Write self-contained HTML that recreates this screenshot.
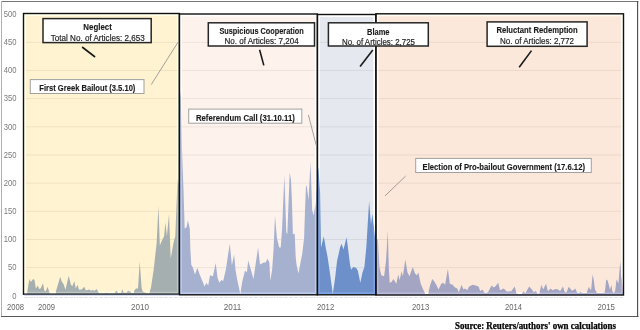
<!DOCTYPE html>
<html><head><meta charset="utf-8"><style>
html,body{margin:0;padding:0;background:#fff;width:640px;height:330px;overflow:hidden}
svg{display:block}
text{font-family:"Liberation Sans",sans-serif}
</style></head><body>
<svg width="640" height="330" viewBox="0 0 640 330">
<defs>
<clipPath id="cn"><rect x="23.5" y="13.5" width="155.9" height="280.7"/></clipPath>
<clipPath id="cs"><rect x="179.4" y="14.0" width="138.0" height="280.8"/></clipPath>
<clipPath id="cb"><rect x="317.4" y="14.5" width="58.5" height="280.3"/></clipPath>
<clipPath id="cr"><rect x="375.9" y="13.8" width="247.6" height="281.2"/></clipPath>
<path id="area" d="M24,295 L24.0,294.0 L27.0,293.5 L29.4,279.0 L30.8,281.9 L33.1,278.9 L34.5,280.0 L35.9,288.4 L37.8,285.6 L39.2,288.9 L40.6,288.4 L43.0,283.3 L44.4,290.8 L45.8,291.2 L47.6,286.7 L49.0,291.2 L50.0,293.5 L55.6,293.5 L56.0,291.0 L60.3,276.7 L61.7,281.4 L63.6,284.2 L65.5,289.8 L68.7,275.8 L71.0,285.0 L72.5,286.0 L74.2,281.0 L75.8,288.4 L77.6,284.7 L79.0,289.8 L81.6,289.6 L84.4,286.7 L85.8,290.5 L89.0,289.6 L91.4,290.8 L92.8,289.8 L94.2,291.0 L96.6,288.9 L98.4,292.2 L99.8,293.3 L105.0,293.3 L106.4,292.6 L108.0,293.3 L114.4,293.3 L116.2,290.5 L118.1,292.8 L121.0,292.8 L122.3,289.2 L123.7,292.6 L126.5,292.6 L128.0,290.8 L130.3,291.4 L131.7,293.1 L133.5,293.0 L134.5,290.3 L136.0,288.5 L138.0,288.5 L139.7,261.5 L141.6,287.5 L142.5,291.3 L144.5,292.3 L149.1,293.5 L151.0,287.5 L153.8,268.8 L155.6,252.0 L156.6,243.8 L158.5,205.8 L159.8,245.6 L161.3,241.9 L164.1,236.3 L165.4,222.5 L166.9,236.3 L169.0,214.0 L170.7,258.6 L173.5,242.8 L175.3,236.3 L176.3,210.0 L177.6,177.0 L178.6,185.0 L179.6,120.0 L180.3,87.0 L181.2,100.0 L182.0,150.0 L183.5,190.0 L184.7,228.8 L186.6,226.9 L187.9,220.3 L189.8,228.8 L190.4,250.0 L191.3,265.0 L192.2,266.3 L193.0,268.0 L195.0,274.4 L197.3,267.8 L199.7,274.4 L204.6,286.6 L206.3,282.8 L208.2,285.6 L210.0,275.3 L212.9,276.3 L215.7,263.1 L217.6,278.1 L219.4,282.8 L221.3,280.0 L223.2,281.0 L226.0,268.8 L228.0,255.0 L229.8,243.8 L231.9,265.5 L234.1,254.5 L235.6,270.6 L237.3,280.0 L240.3,294.0 L242.2,281.9 L245.0,270.6 L246.9,272.5 L248.2,260.5 L250.6,268.8 L253.5,279.1 L255.3,266.3 L258.1,247.5 L260.0,264.4 L263.8,262.5 L265.6,262.5 L267.5,258.8 L269.4,262.5 L270.3,281.0 L272.2,268.8 L273.5,250.0 L275.0,215.6 L276.9,238.1 L279.2,247.5 L280.7,247.5 L282.0,230.0 L284.4,175.3 L286.3,232.5 L287.3,234.0 L289.7,172.5 L291.0,180.0 L291.9,200.0 L292.9,234.4 L294.7,233.5 L295.7,256.9 L296.6,265.0 L298.5,273.5 L300.4,263.1 L302.2,254.0 L304.1,238.1 L305.0,210.0 L306.0,184.7 L307.0,187.5 L308.5,200.0 L310.5,162.0 L312.2,210.0 L313.5,215.6 L315.4,205.0 L316.5,190.0 L317.5,175.0 L318.4,167.0 L320.1,192.0 L321.0,247.5 L323.8,236.3 L325.7,247.5 L327.6,257.0 L330.4,276.3 L332.8,294.0 L335.1,278.1 L337.0,261.3 L338.8,253.2 L340.0,247.5 L341.6,243.8 L343.5,249.4 L346.6,237.2 L348.4,251.3 L349.4,259.4 L350.3,266.3 L351.3,269.7 L353.1,266.9 L356.0,267.8 L357.8,270.6 L360.3,282.8 L362.5,272.5 L364.4,266.9 L366.3,247.5 L369.1,201.0 L371.0,224.0 L372.4,213.5 L374.7,234.4 L375.8,245.0 L377.0,240.0 L378.0,238.0 L379.4,266.9 L381.3,275.3 L384.1,276.3 L386.0,261.3 L387.8,230.6 L388.8,266.9 L389.7,282.8 L391.5,282.0 L393.5,279.1 L396.3,283.8 L398.2,274.4 L399.7,280.0 L401.5,271.6 L402.9,276.3 L405.3,259.5 L407.5,272.5 L409.4,276.3 L412.8,266.9 L415.0,273.5 L416.9,275.3 L418.4,272.5 L420.7,283.8 L423.5,290.3 L425.4,294.0 L428.2,294.0 L430.0,285.6 L432.3,279.1 L434.7,281.9 L436.6,285.6 L438.5,289.4 L441.3,283.8 L443.2,282.8 L445.1,284.7 L447.9,268.8 L449.8,283.8 L452.6,284.7 L455.0,287.5 L457.3,288.5 L458.8,292.2 L461.6,284.7 L463.4,289.4 L465.3,288.5 L467.2,290.3 L469.1,286.6 L472.8,284.7 L475.6,285.6 L478.5,286.6 L480.3,291.3 L482.2,289.4 L485.0,293.2 L488.0,292.2 L491.6,285.6 L493.5,287.5 L495.3,286.6 L498.2,282.8 L500.0,290.3 L503.8,288.5 L506.6,291.6 L511.3,291.3 L514.7,286.6 L516.5,293.5 L519.7,294.0 L521.6,294.0 L523.5,291.3 L525.4,293.2 L529.1,286.6 L531.9,289.4 L533.8,292.2 L535.7,290.9 L537.5,293.5 L539.4,293.5 L541.3,284.7 L543.2,289.4 L546.0,283.8 L547.9,291.3 L550.7,288.5 L552.6,290.3 L555.4,289.0 L558.2,289.4 L560.1,291.3 L562.9,286.6 L564.8,292.2 L566.6,292.2 L568.7,286.7 L570.2,288.4 L572.0,290.8 L573.9,289.8 L575.3,288.6 L576.7,291.7 L577.7,293.1 L579.1,293.1 L580.5,291.7 L581.9,293.1 L586.6,293.1 L588.9,286.7 L590.3,289.8 L591.2,289.4 L592.6,274.4 L593.6,279.1 L595.0,289.4 L596.4,292.2 L597.8,293.1 L604.4,293.1 L605.3,288.4 L606.2,279.5 L607.6,280.5 L609.0,285.6 L610.0,289.8 L611.4,284.7 L612.3,291.2 L613.7,293.1 L615.1,291.2 L616.5,279.5 L617.5,281.4 L618.4,283.7 L620.3,261.0 L621.2,274.4 L622.5,285.0 L623.0,294.0 L623,295 Z"/>
</defs>
<path d="M1,1.5H638.5" stroke="#777" stroke-width="1"/><path d="M1.5,1V317" stroke="#b0b0b0" stroke-width="1"/><path d="M1,316.5H638.5" stroke="#585858" stroke-width="1.1"/><path d="M637.6,1V317" stroke="#4a4a4a" stroke-width="1.1"/>
<rect x="23.5" y="13.5" width="155.9" height="280.7" fill="#FFF3D1"/>
<rect x="179.4" y="14.0" width="138.0" height="280.8" fill="#FDF3EC"/>
<rect x="317.4" y="14.5" width="58.5" height="280.3" fill="#E5E9EF"/>
<rect x="375.9" y="13.8" width="247.6" height="281.2" fill="#FBE8DA"/>
<path d="M24,267.68H623M24,239.50H623M24,211.32H623M24,183.15H623M24,154.97H623M24,126.80H623M24,98.62H623M24,70.45H623M24,42.27H623M24,14.10H623" stroke="#000" stroke-opacity="0.065" stroke-width="1" fill="none"/>
<use href="#area" fill="#A6AFB0" clip-path="url(#cn)"/>
<use href="#area" fill="#A6B1D0" clip-path="url(#cs)"/>
<use href="#area" fill="#6D90CA" clip-path="url(#cb)"/>
<use href="#area" fill="#A3A5C3" clip-path="url(#cr)"/>
<path d="M23.5,13.5H179.4M23.5,294.2H179.4M23.5,13.5V294.2M179.4,14.0H317.4M179.4,294.8H317.4M179.4,13.5V294.8M317.4,14.5H375.9M317.4,294.8H375.9M317.4,14.0V294.8M375.9,13.8H623.5M375.9,295.0H623.5M375.9,13.8V295.0M623.5,13.8V295.0" fill="none" stroke="rgb(30,30,30)" style="mix-blend-mode:color-dodge" stroke-width="5.0" stroke-linecap="square"/>
<rect x="23.5" y="13.5" width="155.9" height="280.7" fill="none" stroke="#111" stroke-width="1.4"/>
<rect x="179.4" y="14.0" width="138.0" height="280.8" fill="none" stroke="#111" stroke-width="1.4"/>
<rect x="317.4" y="14.5" width="58.5" height="280.3" fill="none" stroke="#111" stroke-width="1.4"/>
<rect x="375.9" y="13.8" width="247.6" height="281.2" fill="none" stroke="#111" stroke-width="1.4"/>
<path d="M24,295.2H179" stroke="#b8c4e6" stroke-width="0.8"/><path d="M24,297.5H623" stroke="#e2e4ea" stroke-width="1.1" stroke-dasharray="4,1"/>
<text x="12.25" y="298.55" font-size="8.5" fill="#7a7a7a" textLength="4.25" lengthAdjust="spacingAndGlyphs">0</text>
<text x="8.00" y="270.38" font-size="8.5" fill="#7a7a7a" textLength="8.50" lengthAdjust="spacingAndGlyphs">50</text>
<text x="3.75" y="242.20" font-size="8.5" fill="#7a7a7a" textLength="12.75" lengthAdjust="spacingAndGlyphs">100</text>
<text x="3.75" y="214.02" font-size="8.5" fill="#7a7a7a" textLength="12.75" lengthAdjust="spacingAndGlyphs">150</text>
<text x="3.75" y="185.85" font-size="8.5" fill="#7a7a7a" textLength="12.75" lengthAdjust="spacingAndGlyphs">200</text>
<text x="3.75" y="157.67" font-size="8.5" fill="#7a7a7a" textLength="12.75" lengthAdjust="spacingAndGlyphs">250</text>
<text x="3.75" y="129.50" font-size="8.5" fill="#7a7a7a" textLength="12.75" lengthAdjust="spacingAndGlyphs">300</text>
<text x="3.75" y="101.33" font-size="8.5" fill="#7a7a7a" textLength="12.75" lengthAdjust="spacingAndGlyphs">350</text>
<text x="3.75" y="73.15" font-size="8.5" fill="#7a7a7a" textLength="12.75" lengthAdjust="spacingAndGlyphs">400</text>
<text x="3.75" y="44.98" font-size="8.5" fill="#7a7a7a" textLength="12.75" lengthAdjust="spacingAndGlyphs">450</text>
<text x="3.75" y="16.80" font-size="8.5" fill="#7a7a7a" textLength="12.75" lengthAdjust="spacingAndGlyphs">500</text>
<text x="7.0" y="309.8" font-size="8.8" fill="#666" textLength="17.0" lengthAdjust="spacingAndGlyphs">2008</text>
<text x="38.0" y="309.8" font-size="8.8" fill="#666" textLength="17.0" lengthAdjust="spacingAndGlyphs">2009</text>
<text x="131.0" y="309.8" font-size="8.8" fill="#666" textLength="18.0" lengthAdjust="spacingAndGlyphs">2010</text>
<text x="223.8" y="309.8" font-size="8.8" fill="#666" textLength="17.4" lengthAdjust="spacingAndGlyphs">2011</text>
<text x="317.0" y="309.8" font-size="8.8" fill="#666" textLength="17.2" lengthAdjust="spacingAndGlyphs">2012</text>
<text x="412.0" y="309.8" font-size="8.8" fill="#666" textLength="17.2" lengthAdjust="spacingAndGlyphs">2013</text>
<text x="505.0" y="309.8" font-size="8.8" fill="#666" textLength="17.0" lengthAdjust="spacingAndGlyphs">2014</text>
<text x="597.5" y="309.8" font-size="8.8" fill="#666" textLength="17.5" lengthAdjust="spacingAndGlyphs">2015</text>
<line x1="82.1" y1="47.0" x2="95.1" y2="57.0" stroke="#1a1a1a" stroke-width="1.6"/>
<line x1="259.6" y1="49.8" x2="263.8" y2="65.4" stroke="#1a1a1a" stroke-width="1.6"/>
<line x1="372.8" y1="50.1" x2="360.1" y2="66.5" stroke="#1a1a1a" stroke-width="1.6"/>
<line x1="531.5" y1="50.6" x2="519.2" y2="67.3" stroke="#1a1a1a" stroke-width="1.6"/>
<line x1="151.3" y1="84.5" x2="178.2" y2="41.9" stroke="#8c8c8c" stroke-width="0.8"/>
<line x1="308.4" y1="114.9" x2="316.3" y2="145.6" stroke="#8c8c8c" stroke-width="0.8"/>
<line x1="385.0" y1="195.9" x2="405.7" y2="176.0" stroke="#8c8c8c" stroke-width="0.8"/>
<rect x="43.0" y="18.6" width="108.2" height="24.0" fill="#fff" stroke="#262626" stroke-width="1.5"/>
<text x="83.3" y="29.9" font-size="8.5" font-weight="bold" fill="#1a1a1a" stroke="#1a1a1a" stroke-width="0.12" textLength="28.5" lengthAdjust="spacingAndGlyphs">Neglect</text>
<text x="50.8" y="40.8" font-size="8.5" fill="#1e1e1e" stroke="#1e1e1e" stroke-width="0.18" textLength="93.9" lengthAdjust="spacingAndGlyphs">Total No. of Articles: 2,653</text>
<rect x="208.3" y="22.8" width="106.2" height="23.2" fill="#fff" stroke="#262626" stroke-width="1.5"/>
<text x="219.4" y="34.0" font-size="8.5" font-weight="bold" fill="#1a1a1a" stroke="#1a1a1a" stroke-width="0.12" textLength="84.3" lengthAdjust="spacingAndGlyphs">Suspicious Cooperation</text>
<text x="224.5" y="44.0" font-size="8.5" fill="#1e1e1e" stroke="#1e1e1e" stroke-width="0.18" textLength="74.1" lengthAdjust="spacingAndGlyphs">No. of Articles: 7,204</text>
<rect x="328.4" y="22.8" width="99.9" height="23.2" fill="#fff" stroke="#262626" stroke-width="1.5"/>
<text x="367.1" y="34.7" font-size="8.5" font-weight="bold" fill="#1a1a1a" stroke="#1a1a1a" stroke-width="0.12" textLength="22.4" lengthAdjust="spacingAndGlyphs">Blame</text>
<text x="342.0" y="44.8" font-size="8.5" fill="#1e1e1e" stroke="#1e1e1e" stroke-width="0.18" textLength="73.0" lengthAdjust="spacingAndGlyphs">No. of Articles: 2,725</text>
<rect x="487.1" y="21.9" width="100.0" height="24.4" fill="#fff" stroke="#262626" stroke-width="1.5"/>
<text x="496.4" y="33.1" font-size="8.5" font-weight="bold" fill="#1a1a1a" stroke="#1a1a1a" stroke-width="0.12" textLength="81.3" lengthAdjust="spacingAndGlyphs">Reluctant Redemption</text>
<text x="500.0" y="43.6" font-size="8.5" fill="#1e1e1e" stroke="#1e1e1e" stroke-width="0.18" textLength="74.0" lengthAdjust="spacingAndGlyphs">No. of Articles: 2,772</text>
<rect x="30.3" y="79.6" width="113.7" height="13.9" fill="#fff" stroke="#a0a0a0" stroke-width="1"/>
<text x="39.3" y="90.9" font-size="8.5" font-weight="bold" fill="#1a1a1a" stroke="#1a1a1a" stroke-width="0.12" textLength="96.1" lengthAdjust="spacingAndGlyphs">First Greek Bailout (3.5.10)</text>
<rect x="188.7" y="109.1" width="113.1" height="14.1" fill="#fff" stroke="#a0a0a0" stroke-width="1"/>
<text x="195.9" y="120.5" font-size="8.5" font-weight="bold" fill="#1a1a1a" stroke="#1a1a1a" stroke-width="0.12" textLength="98.9" lengthAdjust="spacingAndGlyphs">Referendum Call (31.10.11)</text>
<rect x="415.7" y="158.4" width="175.6" height="14.1" fill="#fff" stroke="#a0a0a0" stroke-width="1"/>
<text x="422.5" y="169.8" font-size="8.5" font-weight="bold" fill="#1a1a1a" stroke="#1a1a1a" stroke-width="0.12" textLength="162.5" lengthAdjust="spacingAndGlyphs">Election of Pro-bailout Government (17.6.12)</text>
<text x="455" y="328.6" font-family="Liberation Serif" style="font-family:'Liberation Serif',serif" font-size="9.6" font-weight="bold" fill="#000" stroke="#000" stroke-width="0.25" textLength="161" lengthAdjust="spacingAndGlyphs">Source: Reuters/authors' own calculations</text>
</svg></body></html>
